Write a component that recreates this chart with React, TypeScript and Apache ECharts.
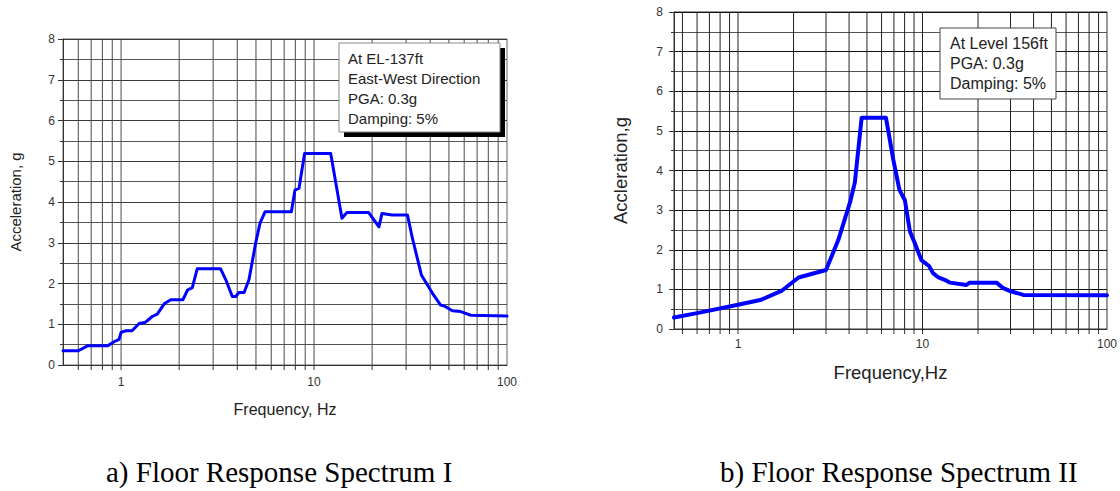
import React, { useEffect, useRef } from "react";
import * as echarts from "echarts";

// Chart a) Floor Response Spectrum I
const freqA = [0.5, 0.6, 0.67, 0.85, 0.92, 0.976, 1.0, 1.06, 1.14, 1.24, 1.34, 1.45, 1.54, 1.68, 1.81, 2.09, 2.21, 2.34, 2.48, 3.28, 3.49, 3.77, 3.93, 4.08, 4.34, 4.6, 4.98, 5.25, 5.57, 7.63, 7.96, 8.36, 8.93, 12.2, 13.95, 14.8, 19.2, 21.7, 22.5, 25.4, 30.5, 32.2, 36.0, 41.1, 45.3, 47.3, 52.1, 57.5, 65, 100];
const accA = [0.35, 0.35, 0.47, 0.47, 0.57, 0.63, 0.8, 0.84, 0.84, 1.02, 1.05, 1.19, 1.25, 1.51, 1.6, 1.6, 1.84, 1.9, 2.36, 2.36, 2.09, 1.68, 1.68, 1.78, 1.78, 2.09, 2.99, 3.48, 3.76, 3.76, 4.29, 4.34, 5.19, 5.19, 3.6, 3.74, 3.74, 3.39, 3.72, 3.68, 3.68, 3.15, 2.21, 1.76, 1.47, 1.45, 1.33, 1.31, 1.22, 1.2];

// Chart b) Floor Response Spectrum II
const freqB = [0.45, 0.6, 1.0, 1.32, 1.72, 2.13, 3.0, 3.5, 4.05, 4.3, 4.68, 6.34, 6.95, 7.5, 8.03, 8.55, 9.1, 9.86, 10.85, 11.4, 12.2, 13.5, 14.1, 17.3, 18.0, 25.2, 27.4, 29.7, 35.2, 100];
const accB = [0.29, 0.4, 0.61, 0.73, 0.96, 1.3, 1.49, 2.25, 3.2, 3.7, 5.33, 5.33, 4.27, 3.51, 3.25, 2.46, 2.16, 1.74, 1.59, 1.41, 1.3, 1.22, 1.17, 1.11, 1.17, 1.17, 1.03, 0.96, 0.86, 0.85];

// log grid line positions (Hz)
const gridFreqA = [0.6, 0.7, 0.8, 0.9, 1, 2, 3, 4, 5, 6, 7, 8, 9, 10, 20, 30, 40, 50, 60, 70, 80, 90];
const gridFreqB = [0.5, 0.6, 0.7, 0.8, 0.9, 1, 2, 3, 4, 5, 6, 7, 8, 9, 10, 20, 30, 40, 50, 60, 70, 80, 90];
const xTickLabels = ["1", "10", "100"];

const legendA = ["At EL-137ft", "East-West Direction", "PGA: 0.3g", "Damping: 5%"];
const legendB = ["At Level 156ft", "PGA: 0.3g", "Damping: 5%"];
const captionA = "a) Floor Response Spectrum I";
const captionB = "b) Floor Response Spectrum II";

const SANS = "Liberation Sans, Arial, sans-serif";
const SERIF = "Liberation Serif, Times New Roman, serif";

function gridSeries(idx: number, freqs: number[], color: string, tick: number) {
  return {
    type: "custom",
    xAxisIndex: idx,
    yAxisIndex: idx,
    silent: true,
    z: 1,
    data: freqs.map((f) => [f, 0]),
    encode: { x: 0, y: 1 },
    renderItem: (_p: any, api: any) => {
      const f = api.value(0);
      const top = api.coord([f, 8]);
      const bot = api.coord([f, 0]);
      return {
        type: "group",
        children: [
          { type: "line", shape: { x1: top[0], y1: top[1], x2: bot[0], y2: bot[1] }, style: { stroke: color, lineWidth: 1 } },
          { type: "line", shape: { x1: bot[0], y1: bot[1], x2: bot[0], y2: bot[1] + tick }, style: { stroke: "#333", lineWidth: 1 } },
        ],
      };
    },
  };
}

function xAxis(idx: number, min: number, name: string, nameGap: number, nameSize: number, margin: number) {
  return {
    type: "log",
    logBase: 10,
    gridIndex: idx,
    min,
    max: 100,
    axisLine: { show: true, onZero: false, lineStyle: { color: "#333", width: 1 } },
    axisTick: { show: false },
    splitLine: { show: false },
    axisLabel: {
      margin,
      fontSize: 12,
      color: "#333",
      fontFamily: SANS,
      formatter: (v: number) => {
        const s = String(Math.round(v * 1000) / 1000);
        return xTickLabels.includes(s) ? s : "";
      },
    },
    name,
    nameLocation: "middle",
    nameGap,
    nameTextStyle: { fontSize: nameSize, color: "#222", fontFamily: SANS },
  };
}

function yAxis(idx: number, name: string, nameGap: number, nameSize: number, margin: number, major: string, minor: string) {
  return {
    type: "value",
    gridIndex: idx,
    min: 0,
    max: 8,
    interval: 1,
    axisLine: { show: true, onZero: false, lineStyle: { color: "#333", width: 1 } },
    axisTick: { show: true, length: 5, lineStyle: { color: "#333" } },
    minorTick: { show: true, splitNumber: 2, length: 3, lineStyle: { color: "#333" } },
    splitLine: { show: true, lineStyle: { color: major, width: 1 } },
    minorSplitLine: { show: true, lineStyle: { color: minor, width: 1 } },
    axisLabel: { margin, fontSize: 12, color: "#333", fontFamily: SANS },
    name,
    nameLocation: "middle",
    nameGap,
    nameTextStyle: { fontSize: nameSize, color: "#222", fontFamily: SANS },
  };
}

export default function App() {
  const ref = useRef<HTMLDivElement>(null);
  useEffect(() => {
    document.body.style.margin = "0";
    const chart = echarts.init(ref.current!, undefined, { renderer: "svg" });
    const option: any = {
      animation: false,
      backgroundColor: "#fff",
      grid: [
        { left: 63, top: 39, width: 444, height: 326, show: true, borderColor: "#666", borderWidth: 1, backgroundColor: "transparent" },
        { left: 674, top: 12, width: 433, height: 317, show: true, borderColor: "#333", borderWidth: 1, backgroundColor: "transparent" },
      ],
      xAxis: [
        xAxis(0, 0.5, "Frequency, Hz", 36, 16, 11),
        xAxis(1, 0.45, "Frequency,Hz", 34, 18.5, 9),
      ],
      yAxis: [
        yAxis(0, "Acceleration, g", 40, 15, 8, "#3a3a3a", "#555"),
        yAxis(1, "Accleration,g", 44, 18.5, 11, "#111", "#555"),
      ],
      series: [
        gridSeries(0, gridFreqA, "#4a4a4a", 5),
        gridSeries(1, gridFreqB, "#222", 5),
        {
          type: "line",
          xAxisIndex: 0,
          yAxisIndex: 0,
          data: freqA.map((f, i) => [f, accA[i]]),
          symbol: "none",
          lineStyle: { color: "#0000ff", width: 3, join: "round", cap: "round" },
          z: 5,
        },
        {
          type: "line",
          xAxisIndex: 1,
          yAxisIndex: 1,
          data: freqB.map((f, i) => [f, accB[i]]),
          symbol: "none",
          lineStyle: { color: "#0000ff", width: 4, join: "round", cap: "round" },
          z: 5,
        },
      ],
      graphic: [
        { type: "rect", shape: { x: 344, y: 48, width: 161, height: 89 }, style: { fill: "#000" }, z: 10 },
        { type: "rect", shape: { x: 339, y: 43, width: 161, height: 89 }, style: { fill: "#fff", stroke: "#888", lineWidth: 1 }, z: 11 },
        ...legendA.map((t, i) => ({
          type: "text",
          x: 348,
          y: 58 + i * 20,
          z: 12,
          style: { text: t, fill: "#222", font: `15px ${SANS}`, verticalAlign: "middle" },
        })),
        { type: "rect", shape: { x: 940, y: 28, width: 116, height: 71 }, style: { fill: "#fff", stroke: "#444", lineWidth: 1 }, z: 11 },
        ...legendB.map((t, i) => ({
          type: "text",
          x: 950,
          y: 43 + i * 20,
          z: 12,
          style: { text: t, fill: "#222", font: `16px ${SANS}`, verticalAlign: "middle" },
        })),
        { type: "text", x: 106, y: 472, style: { text: captionA, fill: "#000", font: `29px ${SERIF}`, align: "left", verticalAlign: "middle" } },
        { type: "text", x: 720, y: 472, style: { text: captionB, fill: "#000", font: `29px ${SERIF}`, align: "left", verticalAlign: "middle" } },
      ],
    };
    chart.setOption(option);
    return () => chart.dispose();
  }, []);
  return <div ref={ref} style={{ width: 1120, height: 491 }} />;
}
